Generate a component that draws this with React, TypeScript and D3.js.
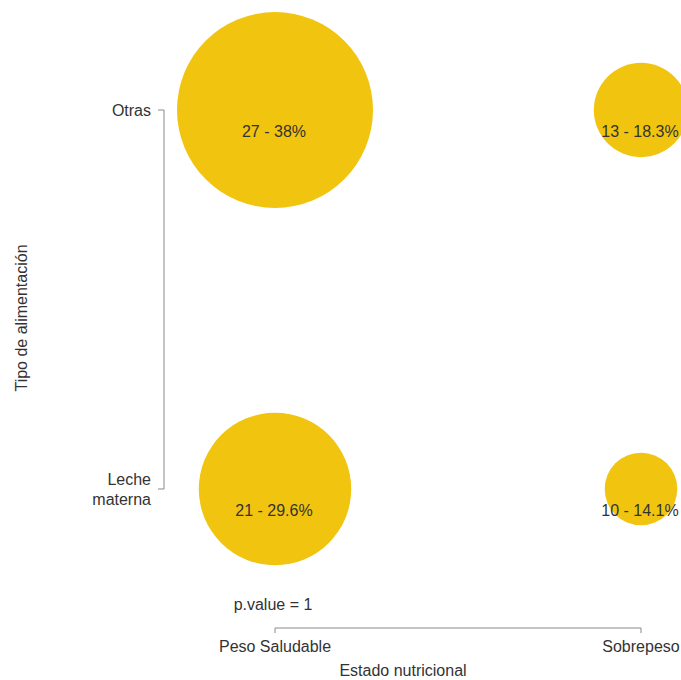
import React from "react";
import * as d3 from "d3";

const xCategories = ["Peso Saludable", "Sobrepeso"];
const yCategories = ["Otras", "Leche materna"];
const yTickLines = [["Otras"], ["Leche", "materna"]];
const counts = [
  [27, 13],
  [21, 10],
];
const percents = [
  ["38%", "18.3%"],
  ["29.6%", "14.1%"],
];
const xTitle = "Estado nutricional";
const yTitle = "Tipo de alimentación";
const pValueText = "p.value = 1";

const W = 681;
const H = 680;
const FONT = "'Liberation Sans', Arial, sans-serif";
const TEXT = "#333";
const AXIS = "#8a8a8a";
const FILL = "#F1C40F";

export default function App() {
  const x = d3.scalePoint<string>().domain(xCategories).range([275, 641]).padding(0);
  const y = d3.scalePoint<string>().domain(yCategories).range([110, 489]).padding(0);
  const maxV = d3.max(counts.flat()) as number;
  const r = d3.scaleLinear().domain([0, maxV]).range([0, 98]);

  const cells: { xc: string; yc: string; v: number; p: string }[] = [];
  yCategories.forEach((yc, i) =>
    xCategories.forEach((xc, j) => cells.push({ xc, yc, v: counts[i][j], p: percents[i][j] }))
  );

  const xAxisY = 628;
  const yAxisX = 164;
  const [x0, x1] = x.range();
  const [y0, y1] = y.range();

  return (
    <svg
      width={W}
      height={H}
      style={{ position: "absolute", left: 0, top: 0, background: "#fff" }}
      fontFamily={FONT}
    >
      <defs>
        <clipPath id="plotclip">
          <rect x={0} y={12} width={W} height={H - 12} />
        </clipPath>
      </defs>
      <g clipPath="url(#plotclip)">
        {cells.map((c, k) => (
          <circle key={k} cx={x(c.xc)} cy={y(c.yc)} r={r(c.v)} fill={FILL} />
        ))}
      </g>
      {cells.map((c, k) => (
        <text
          key={"t" + k}
          x={(x(c.xc) as number) - 1}
          y={(y(c.yc) as number) + 21}
          dy="0.35em"
          textAnchor="middle"
          fontSize={16}
          fill={TEXT}
        >
          {`${c.v} - ${c.p}`}
        </text>
      ))}

      {/* Y axis */}
      <line x1={yAxisX} x2={yAxisX} y1={y0} y2={y1} stroke={AXIS} strokeWidth={1} />
      {yCategories.map((yc, i) => {
        const yy = y(yc) as number;
        const lines = yTickLines[i];
        const lh = 20;
        const start = yy - ((lines.length - 1) * lh) / 2 - (lines.length > 1 ? 0 : 0);
        return (
          <g key={yc}>
            <line x1={yAxisX - 6} x2={yAxisX} y1={yy} y2={yy} stroke={AXIS} />
            <text x={151} textAnchor="end" fontSize={16} fill={TEXT}>
              {lines.map((ln, li) => (
                <tspan key={li} x={151} y={start + li * lh} dy="0.35em">
                  {ln}
                </tspan>
              ))}
            </text>
          </g>
        );
      })}

      {/* X axis */}
      <line x1={x0} x2={x1} y1={xAxisY} y2={xAxisY} stroke={AXIS} strokeWidth={1} />
      {xCategories.map((xc) => {
        const xx = x(xc) as number;
        return (
          <g key={xc}>
            <line x1={xx} x2={xx} y1={xAxisY} y2={xAxisY + 5} stroke={AXIS} />
            <text x={xx} y={646} dy="0.35em" textAnchor="middle" fontSize={16} fill={TEXT}>
              {xc}
            </text>
          </g>
        );
      })}

      <text x={273} y={604} dy="0.35em" textAnchor="middle" fontSize={16} fill={TEXT}>
        {pValueText}
      </text>
      <text x={403} y={670} dy="0.35em" textAnchor="middle" fontSize={16} fill={TEXT}>
        {xTitle}
      </text>
      <text
        transform={`translate(21, 318) rotate(-90)`}
        dy="0.35em"
        textAnchor="middle"
        fontSize={16}
        fill={TEXT}
      >
        {yTitle}
      </text>
    </svg>
  );
}
